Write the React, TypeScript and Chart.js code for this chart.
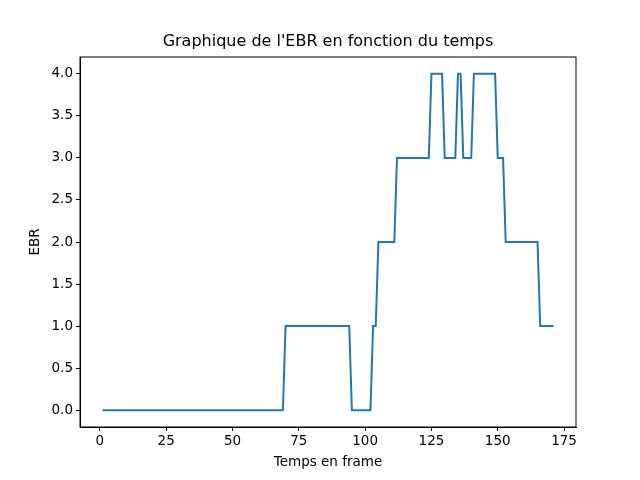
import React, { useEffect, useRef } from "react";
import { Chart, registerables } from "chart.js";
Chart.register(...registerables);

const frameX = [1, 69, 70, 94, 95, 102, 103, 104, 105, 111, 112, 124, 125, 129, 130, 134, 135, 136, 137, 140, 141, 149, 150, 152, 153, 165, 166, 171];
const ebrY = [0, 0, 1, 1, 0, 0, 1, 1, 2, 2, 3, 3, 4, 4, 3, 3, 4, 4, 3, 3, 4, 4, 3, 3, 2, 2, 1, 1];
const xTicks = [0, 25, 50, 75, 100, 125, 150, 175];
const yTicks = [0, 0.5, 1, 1.5, 2, 2.5, 3, 3.5, 4];
const titleText = "Graphique de l'EBR en fonction du temps";
const xTitle = "Temps en frame";
const yTitle = "EBR";

const frame = {
  id: "frame",
  afterDraw(c: any) {
    const a = c.chartArea;
    const ctx = c.ctx;
    ctx.save();
    ctx.strokeStyle = "black";
    ctx.lineWidth = 1;
    ctx.strokeRect(a.left, a.top, a.right - a.left, a.bottom - a.top);
    ctx.fillStyle = "black";
    ctx.textAlign = "center";
    ctx.textBaseline = "middle";
    const cx = (a.left + a.right) / 2;
    ctx.font = "16px 'DejaVu Sans'";
    ctx.fillText(titleText, cx, a.top - 15);
    ctx.font = "13.5px 'DejaVu Sans'";
    ctx.fillText(xTitle, cx, a.bottom + 35);
    ctx.translate(a.left - 45, (a.top + a.bottom) / 2);
    ctx.rotate(-Math.PI / 2);
    ctx.fillText(yTitle, 0, 0);
    ctx.restore();
  },
};

export default function App() {
  const ref = useRef<HTMLCanvasElement>(null);
  useEffect(() => {
    document.body.style.margin = "0";
    const font = { family: "DejaVu Sans", size: 13.5 };
    const chart = new Chart(ref.current!, {
      type: "line",
      data: {
        datasets: [{
          data: frameX.map((x, i) => ({ x, y: ebrY[i] })),
          borderColor: "#1f77b4",
          borderWidth: 2,
          pointRadius: 0,
          tension: 0,
        }],
      },
      options: {
        animation: false,
        responsive: false,
        layout: { padding: { left: 0, right: 64, top: 57, bottom: 0 } },
        plugins: {
          legend: { display: false },
          tooltip: { enabled: false },
          title: { display: false },
        },
        scales: {
          x: {
            type: "linear",
            min: -7.5,
            max: 179.5,
            afterBuildTicks: (s: any) => { s.ticks = xTicks.map((v) => ({ value: v })); },
            afterFit: (s: any) => { s.height = 53; },
            ticks: { color: "black", font, maxRotation: 0, padding: 2 },
            grid: { drawOnChartArea: false, drawTicks: true, tickLength: 4, color: "black" },
            border: { display: true, color: "black" },
          },
          y: {
            type: "linear",
            min: -0.2,
            max: 4.2,
            afterBuildTicks: (s: any) => { s.ticks = yTicks.map((v) => ({ value: v })); },
            afterFit: (s: any) => { s.width = 80; },
            ticks: { color: "black", font, padding: 3, callback: (v: any) => Number(v).toFixed(1) },
            grid: { drawOnChartArea: false, drawTicks: true, tickLength: 4, color: "black" },
            border: { display: true, color: "black" },
          },
        },
      },
      plugins: [frame],
    });
    return () => chart.destroy();
  }, []);
  return (
    <div style={{ position: "fixed", left: 0, top: 0, width: 640, height: 480, background: "white" }}>
      <canvas ref={ref} width={640} height={480} />
    </div>
  );
}
